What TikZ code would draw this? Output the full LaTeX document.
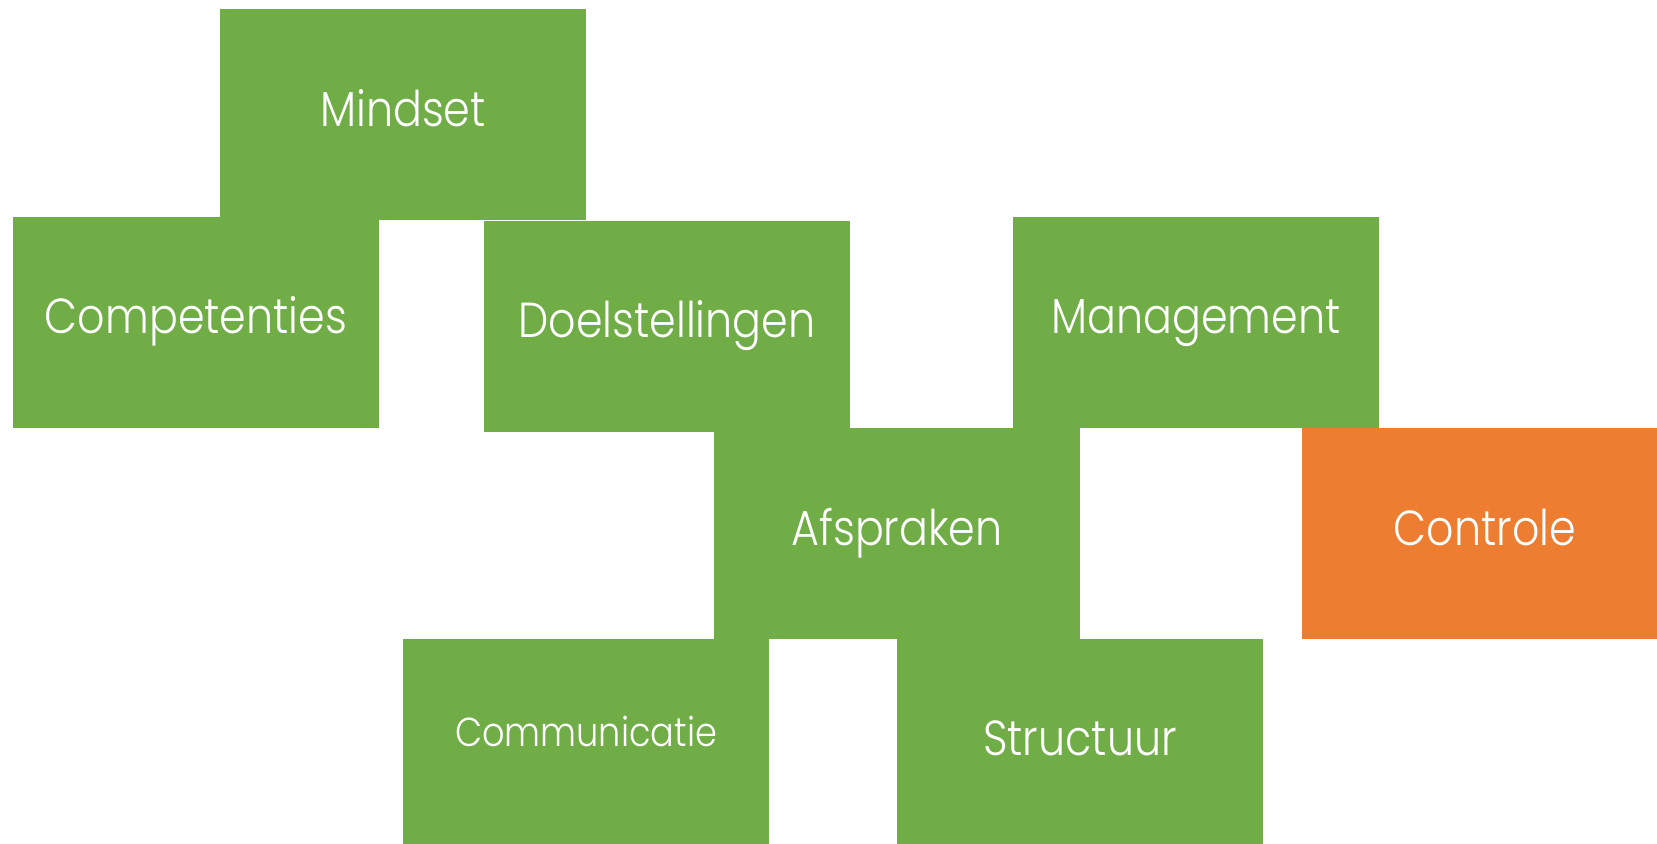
\documentclass[tikz,border=0pt]{standalone}
\usepackage{fontspec}
\setmainfont{Poppins}[UprightFont=* Light, FakeStretch=0.87]
\usetikzlibrary{positioning}

\definecolor{tilegreen}{HTML}{70AD47}
\definecolor{tileorange}{HTML}{ED7D31}

\begin{document}
\begin{tikzpicture}[
  tile/.style={rectangle, fill=tilegreen, text=white, inner sep=0pt,
    minimum width=3.66cm, minimum height=2.11cm,
    text height=0.40cm, text depth=0.17cm, font=\fontsize{14}{16}\selectfont},
  accent/.style={tile, fill=tileorange}
]
\useasboundingbox (0,0) rectangle (16.57,8.44);
\clip (0,0) rectangle (16.57,8.44);

\node[tile] at (4.03,7.29) (mindset) {Mindset};
\node[tile] at (1.96,5.215) (competenties) {Competenties};
\node[tile] at (6.67,5.175) (doelstellingen) {Doelstellingen};
\node[tile] at (11.96,5.215) (management) {Management};
\node[tile] at (8.97,3.10) (afspraken) {Afspraken};
\node[accent] at (14.85,3.10) (controle) {Controle};
\node[tile, font=\fontsize{11.5}{14}\selectfont, text height=0.40cm,
  text depth=0.35cm] at (5.86,0.995) (communicatie) {Communicatie};
\node[tile] at (10.80,0.995) (structuur) {Structuur};
\end{tikzpicture}
\end{document}
